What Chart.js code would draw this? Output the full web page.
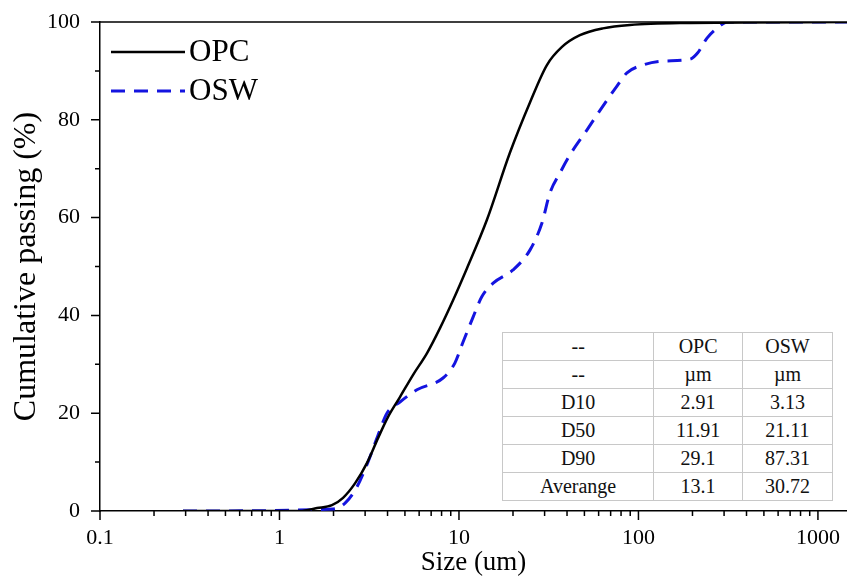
<!DOCTYPE html>
<html lang="en">

<head>
    <meta charset="UTF-8" />
    <title>Cumulative passing</title>
    <script src="https://cdn.jsdelivr.net/npm/chart.js"></script>
    <style>
        body {
            margin: 0;
            background: #fff;
        }

        .wrap {
            position: relative;
            width: 847px;
            height: 583px;
        }

        table.stats {
            position: absolute;
            left: 502px;
            top: 332px;
            width: 331px;
            height: 165px;
            border-collapse: collapse;
            border: 1.5px solid #555;
            font-family: 'Liberation Serif', 'Times New Roman', serif;
            font-size: 20px;
            color: #111;
            background: #fff;
        }

        table.stats td {
            border: 1px solid #c8c8c8;
            text-align: center;
            padding: 0;
            height: 27px;
        }
    </style>
</head>

<body>
    <div class="wrap">
        <canvas id="psd"></canvas>
        <table class="stats" id="stats"></table>
    </div>

    <script>
        // particle size (um) and cumulative passing (%)
        const opcSize = [0.29, 1.30, 1.62, 1.96, 2.26, 2.64, 3.07, 3.54, 4.02, 4.69, 5.54, 6.64, 7.84, 9.27, 11.1, 14.3, 19.2, 24.9, 30.9, 37.5, 47.2, 63.4, 89.7, 170, 1500];
        const opcPassing = [0, 0, 0.6, 1.2, 2.7, 5.7, 9.8, 14.9, 19.2, 23.3, 27.8, 32.3, 37.4, 43.1, 49.7, 59.5, 73.2, 83.6, 91.2, 94.9, 97.3, 98.7, 99.4, 99.8, 100];

        const oswSize = [0.29, 1.99, 2.32, 2.70, 3.11, 3.54, 3.97, 4.69, 5.83, 8.15, 9.50, 10.5, 12.0, 13.4, 15.5, 20.0, 24.9, 29.0, 32.1, 36.5, 41.5, 51.6, 63.4, 75.9, 86.3, 106, 137, 194, 214, 241, 285, 311, 1500];
        const oswPassing = [0, 0.4, 1.6, 4.9, 10.0, 15.5, 20.0, 22.3, 24.8, 27.2, 30.3, 34.4, 39.7, 43.8, 46.6, 49.3, 53.4, 58.9, 65.0, 69.1, 72.8, 77.9, 82.8, 86.9, 89.6, 91.2, 92.0, 92.4, 93.7, 96.7, 99.2, 100, 100];

        const xTicks = [0.1, 1, 10, 100, 1000];
        const xTickLabels = ['0.1', '1', '10', '100', '1000'];
        const yTicks = [0, 20, 40, 60, 80, 100];

        // inset table
        const tableHeader = ['--', 'OPC', 'OSW'];
        const tableUnits = ['--', 'µm', 'µm'];
        const tableRows = ['D10', 'D50', 'D90', 'Averange'];
        const tableOPC = ['2.91', '11.91', '29.1', '13.1'];
        const tableOSW = ['3.13', '21.11', '87.31', '30.72'];

        const serif = "'Liberation Serif', 'Times New Roman', serif";

        const tbl = document.getElementById('stats');
        const rows = [tableHeader, tableUnits];
        tableRows.forEach((r, i) => rows.push([r, tableOPC[i], tableOSW[i]]));
        rows.forEach(r => {
            const tr = document.createElement('tr');
            r.forEach(c => {
                const td = document.createElement('td');
                td.textContent = c;
                tr.appendChild(td);
            });
            tbl.appendChild(tr);
        });

        const toPoints = (xs, ys) => xs.map((x, i) => ({ x: x, y: ys[i] }));

        // outward tick marks (major + minor), top frame line and the legend
        const decor = {
            id: 'decor',
            afterDraw(chart) {
                const ctx = chart.ctx;
                const area = chart.chartArea;
                const xs = chart.scales.x;
                const ys = chart.scales.y;
                ctx.save();
                ctx.strokeStyle = '#000';
                ctx.lineWidth = 1.5;
                ctx.beginPath();
                ctx.moveTo(area.left, area.top);
                ctx.lineTo(area.right, area.top);

                for (let e = -1; e <= 3; e++) {
                    for (let m = 1; m <= 9; m++) {
                        const v = m * Math.pow(10, e);
                        const px = xs.getPixelForValue(v);
                        if (px > area.right) continue;
                        const len = m === 1 ? 9 : 5;
                        ctx.moveTo(px, area.bottom);
                        ctx.lineTo(px, area.bottom + len);
                    }
                }
                for (let v = 0; v <= 100; v += 10) {
                    const py = ys.getPixelForValue(v);
                    const len = v % 20 === 0 ? 9 : 5;
                    ctx.moveTo(area.left, py);
                    ctx.lineTo(area.left - len, py);
                }
                ctx.stroke();

                // legend
                const legendY = [52, 91];
                chart.data.datasets.forEach((ds, i) => {
                    ctx.beginPath();
                    ctx.strokeStyle = ds.borderColor;
                    ctx.lineWidth = ds.borderWidth;
                    ctx.setLineDash(ds.borderDash || []);
                    ctx.moveTo(111, legendY[i]);
                    ctx.lineTo(185, legendY[i]);
                    ctx.stroke();
                    ctx.setLineDash([]);
                    ctx.fillStyle = '#000';
                    ctx.font = '31px ' + serif;
                    ctx.textBaseline = 'middle';
                    ctx.fillText(ds.label, 189, legendY[i] + 1);
                });
                ctx.restore();
            }
        };

        new Chart(document.getElementById('psd'), {
            type: 'line',
            data: {
                datasets: [
                    {
                        label: 'OPC',
                        data: toPoints(opcSize, opcPassing),
                        borderColor: '#000000',
                        borderWidth: 2.5,
                        pointRadius: 0,
                        cubicInterpolationMode: 'monotone'
                    },
                    {
                        label: 'OSW',
                        data: toPoints(oswSize, oswPassing),
                        borderColor: '#1414e0',
                        borderWidth: 3,
                        borderDash: [14, 9],
                        pointRadius: 0,
                        cubicInterpolationMode: 'monotone'
                    }
                ]
            },
            options: {
                responsive: true,
                maintainAspectRatio: false,
                animation: false,
                layout: { padding: { top: 22, right: 0, left: 0, bottom: 0 } },
                plugins: {
                    legend: { display: false },
                    tooltip: { enabled: false }
                },
                scales: {
                    x: {
                        type: 'logarithmic',
                        min: 0.1,
                        max: 1452,
                        afterBuildTicks: scale => {
                            scale.ticks = xTicks.map(v => ({ value: v }));
                        },
                        afterFit: scale => {
                            scale.height = 72;
                            scale.paddingLeft = 0;
                            scale.paddingRight = 0;
                        },
                        grid: { display: false, drawTicks: false },
                        border: { color: '#000', width: 1.5 },
                        ticks: {
                            padding: 14,
                            color: '#000',
                            maxRotation: 0,
                            autoSkip: false,
                            font: { family: serif, size: 22 },
                            callback: (v, i) => xTickLabels[i]
                        },
                        title: {
                            display: true,
                            text: 'Size (um)',
                            color: '#000',
                            font: { family: serif, size: 27 },
                            padding: { top: 0, bottom: 4 }
                        }
                    },
                    y: {
                        min: 0,
                        max: 100,
                        afterBuildTicks: scale => {
                            scale.ticks = yTicks.map(v => ({ value: v }));
                        },
                        afterFit: scale => {
                            scale.width = 100;
                            scale.paddingTop = 0;
                            scale.paddingBottom = 0;
                        },
                        grid: { display: false, drawTicks: false },
                        border: { color: '#000', width: 1.5 },
                        ticks: {
                            padding: 20,
                            color: '#000',
                            font: { family: serif, size: 22 }
                        },
                        title: {
                            display: true,
                            text: 'Cumulative passing (%)',
                            color: '#000',
                            font: { family: serif, size: 32 },
                            padding: { top: 7, bottom: 0 }
                        }
                    }
                }
            },
            plugins: [decor]
        });
    </script>
</body>

</html>
